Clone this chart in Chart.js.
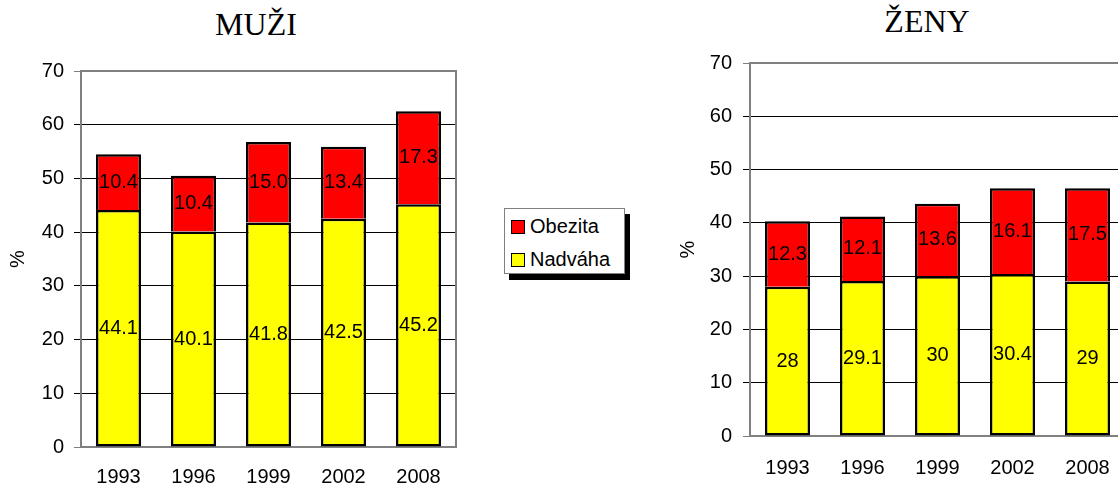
<!DOCTYPE html>
<html>
<head>
<meta charset="utf-8">
<script src="https://cdn.jsdelivr.net/npm/chart.js@4"></script>
<style>
  html, body { margin: 0; padding: 0; background: #fff; overflow: hidden; }
  body { width: 1118px; height: 488px; position: relative; }
  .title { position: absolute; font: 32px/32px "Liberation Serif", "Times New Roman", serif; color: #000; white-space: nowrap; transform: translateX(-50%); }
  canvas { position: absolute; top: 0; }
  #legend { position: absolute; left: 504px; top: 208px; width: 119px; height: 64px; border: 1px solid #808080; background: #fff; box-shadow: 5px 6px 0 #000; font: 20px "Liberation Sans", Arial, sans-serif; }
  .item { position: absolute; left: 6px; height: 24px; line-height: 24px; white-space: nowrap; }
  .swatch { display: inline-block; width: 12px; height: 12px; border: 1.5px solid #000; vertical-align: -1px; margin-right: 5px; }
</style>
</head>
<body>
<div class="title" style="left:256px;top:8px;">MUŽI</div>
<div class="title" style="left:927px;top:5px;">ŽENY</div>
<canvas id="men" width="470" height="488" style="left:0px"></canvas>
<canvas id="women" width="470" height="488" style="left:670px"></canvas>
<div id="legend"></div>
<script>
// data
const years = ['1993', '1996', '1999', '2002', '2008'];
const menOverweight = [44.1, 40.1, 41.8, 42.5, 45.2];
const menObese = [10.4, 10.4, 15.0, 13.4, 17.3];
const womenOverweight = [28, 29.1, 30, 30.4, 29];
const womenObese = [12.3, 12.1, 13.6, 16.1, 17.5];
const seriesNames = ['Nadváha', 'Obezita'];
const seriesColors = ['#ffff00', '#ff0000'];
const yMax = 70;
const yStep = 10;

Chart.defaults.font.family = '"Liberation Sans", Arial, sans-serif';
Chart.defaults.font.size = 20;
Chart.defaults.color = '#000';

// gray frame around the plot area, under the bars
const frame = {
  id: 'frame',
  beforeDatasetsDraw(chart) {
    const a = chart.chartArea;
    const c = chart.ctx;
    c.save();
    c.strokeStyle = '#808080';
    c.lineWidth = 2;
    c.strokeRect(a.left, a.top, a.right - a.left, a.bottom - a.top);
    c.restore();
  }
};

// value written in the middle of every segment
const valueLabels = {
  id: 'valueLabels',
  afterDatasetsDraw(chart, args, opts) {
    const c = chart.ctx;
    c.save();
    c.font = '20px "Liberation Sans", Arial, sans-serif';
    c.fillStyle = '#000';
    c.textAlign = 'center';
    c.textBaseline = 'middle';
    chart.data.datasets.forEach((ds, i) => {
      chart.getDatasetMeta(i).data.forEach((bar, j) => {
        c.fillText(opts.format(ds.data[j]), bar.x, (bar.y + bar.base) / 2);
      });
    });
    c.restore();
  }
};

function makeChart(id, overweight, obese, opt) {
  return new Chart(document.getElementById(id), {
    type: 'bar',
    data: {
      labels: years,
      datasets: [
        { label: seriesNames[0], data: overweight, backgroundColor: seriesColors[0],
          borderColor: '#000', borderWidth: 2.5, borderSkipped: false },
        { label: seriesNames[1], data: obese, backgroundColor: seriesColors[1],
          borderColor: '#000', borderWidth: 2.5, borderSkipped: 'start' }
      ]
    },
    options: {
      responsive: false,
      animation: false,
      layout: { padding: { top: opt.top, right: opt.right, left: 0, bottom: 0 } },
      datasets: { bar: { categoryPercentage: 1, barPercentage: 0.6 } },
      plugins: {
        legend: { display: false },
        tooltip: { enabled: false },
        valueLabels: { format: opt.format }
      },
      scales: {
        x: {
          stacked: true,
          grid: { display: false },
          border: { display: false },
          ticks: { padding: opt.xPad, maxRotation: 0 },
          afterFit: s => { s.height = opt.xHeight; }
        },
        y: {
          stacked: true,
          min: 0,
          max: yMax,
          ticks: { stepSize: yStep, padding: opt.yPad },
          grid: {
            color: c => (c.tick && (c.tick.value === 0 || c.tick.value === yMax)) ? '#808080' : '#000',
            lineWidth: 1,
            tickLength: 7
          },
          border: { display: false },
          title: { display: true, text: '%', padding: { top: 6, bottom: 0 } },
          afterFit: s => { s.width = opt.yWidth; }
        }
      }
    },
    plugins: [frame, valueLabels]
  });
}

makeChart('men', menOverweight, menObese, {
  top: 71, right: 14, xHeight: 41, xPad: 10, yPad: 10, yWidth: 81,
  format: v => v.toFixed(1)
});
makeChart('women', womenOverweight, womenObese, {
  top: 63, right: 15, xHeight: 52, xPad: 12, yPad: 11, yWidth: 80,
  format: v => String(v)
});

// legend, top entry is the upper segment
const legend = document.getElementById('legend');
[1, 0].forEach((k, row) => {
  const item = document.createElement('div');
  item.className = 'item';
  item.style.top = (5 + row * 33) + 'px';
  item.innerHTML = '<span class="swatch" style="background:' + seriesColors[k] + '"></span>' + seriesNames[k];
  legend.appendChild(item);
});
</script>
</body>
</html>
